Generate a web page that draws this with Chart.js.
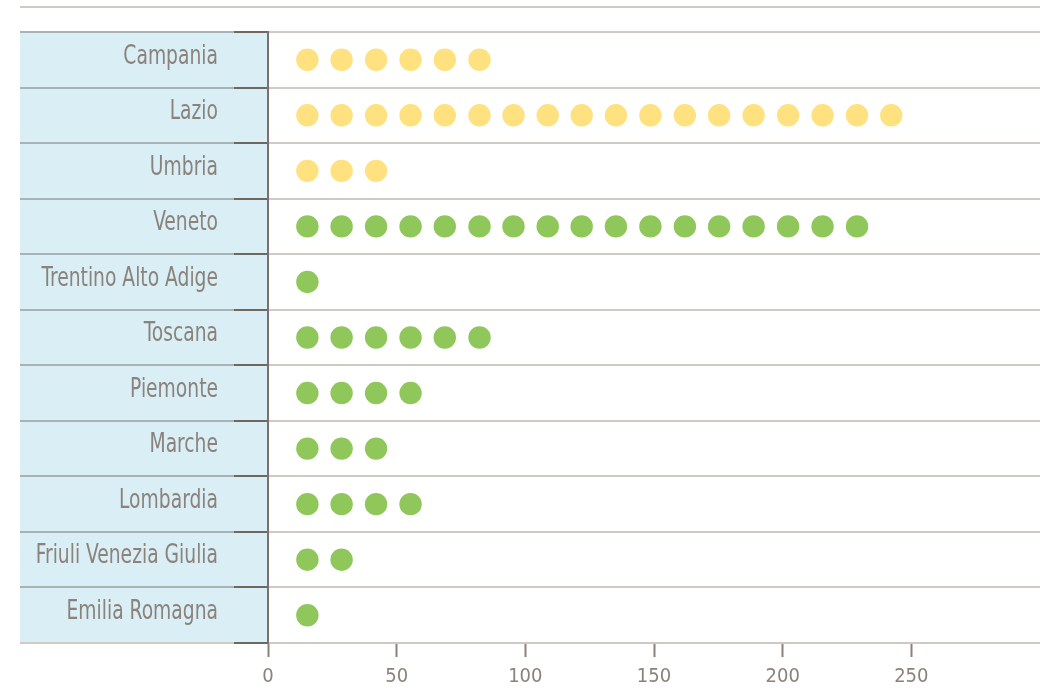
<!DOCTYPE html>
<html lang="it">
<head>
<meta charset="utf-8">
<title>Regioni</title>
<script src="https://cdn.jsdelivr.net/npm/chart.js@4.4.0/dist/chart.umd.min.js"></script>
<style>
    html, body { margin: 0; padding: 0; background: #ffffff; }
    .chart-wrap { position: relative; width: 1042px; height: 691px; }
</style>
</head>
<body>
<div class="chart-wrap">
    <canvas id="regionChart"></canvas>
</div>
<script>
// Regions, top to bottom
const regions = [
    'Campania', 'Lazio', 'Umbria', 'Veneto', 'Trentino Alto Adige', 'Toscana',
    'Piemonte', 'Marche', 'Lombardia', 'Friuli Venezia Giulia', 'Emilia Romagna'
];
// Number of dots in each row
const dotCounts = [6, 18, 3, 17, 1, 6, 4, 3, 4, 2, 1];
// First three rows are the yellow group, the rest green
const yellowRegions = ['Campania', 'Lazio', 'Umbria'];
// x value of each dot slot along the row
const dotSlots = [
    15.3, 28.6, 42.0, 55.4, 68.7, 82.2, 95.4, 108.7, 121.9,
    135.2, 148.6, 162.0, 175.3, 188.7, 202.1, 215.5, 228.9, 242.2
];
const xTicks = [0, 50, 100, 150, 200, 250];
const xMax = 300;

const FONT = '"DejaVu Sans Condensed", "DejaVu Sans", sans-serif';
const TEXT = '#8b827c';

function buildPoints(inGroup) {
    const pts = [];
    regions.forEach((name, i) => {
        if (yellowRegions.includes(name) !== inGroup) return;
        for (let k = 0; k < dotCounts[i]; k++) {
            pts.push({ x: dotSlots[k], y: name });
        }
    });
    return pts;
}

// Blue label panel, its row separators, the top rule and the narrow row labels
const panelPlugin = {
    id: 'panel',
    beforeDraw(chart) {
        const { ctx, chartArea, scales } = chart;
        const y = scales.y;
        const left = 20;
        const tickLen = y.options.grid.tickLength;
        ctx.save();
        ctx.fillStyle = '#d9eef5';
        ctx.fillRect(left, chartArea.top, chartArea.left - left, chartArea.bottom - chartArea.top - 1);

        ctx.lineWidth = 2;
        for (let i = 0; i <= regions.length; i++) {
            const py = Math.round(y.getPixelForValue(i - 0.5));
            ctx.strokeStyle = i === regions.length ? '#d0c9c4' : '#a9b3b6';
            ctx.beginPath();
            ctx.moveTo(left, py);
            ctx.lineTo(chartArea.left - tickLen, py);
            ctx.stroke();
        }

        ctx.strokeStyle = '#d0c9c4';
        ctx.beginPath();
        ctx.moveTo(left, 7);
        ctx.lineTo(chartArea.right, 7);
        ctx.stroke();
        ctx.restore();
    },
    afterDraw(chart) {
        const { ctx, chartArea, scales } = chart;
        const y = scales.y;
        const right = chartArea.left - y.options.grid.tickLength - 16;
        ctx.save();
        ctx.fillStyle = TEXT;
        ctx.font = '26px ' + FONT;
        ctx.textAlign = 'right';
        ctx.textBaseline = 'middle';
        regions.forEach((name, i) => {
            ctx.save();
            ctx.translate(right, y.getPixelForValue(i) - 3);
            ctx.scale(0.8, 1);
            ctx.fillText(name, 0, 0);
            ctx.restore();
        });
        ctx.restore();
    }
};

function initRegionChart() {
    const ctx = document.getElementById('regionChart').getContext('2d');
    new Chart(ctx, {
        type: 'scatter',
        data: {
            datasets: [{
                label: 'gruppo giallo',
                data: buildPoints(true),
                backgroundColor: '#ffe17f',
                borderWidth: 0,
                pointRadius: 11.2,
                pointHoverRadius: 11.2
            }, {
                label: 'gruppo verde',
                data: buildPoints(false),
                backgroundColor: '#8fc75b',
                borderWidth: 0,
                pointRadius: 11.2,
                pointHoverRadius: 11.2
            }]
        },
        options: {
            responsive: true,
            maintainAspectRatio: false,
            animation: false,
            layout: {
                autoPadding: false,
                padding: { top: 32, left: 20, right: 2, bottom: 0 }
            },
            plugins: {
                legend: { display: false },
                tooltip: { enabled: false }
            },
            scales: {
                x: {
                    type: 'linear',
                    min: 0,
                    max: xMax,
                    afterBuildTicks: scale => {
                        scale.ticks = xTicks.map(v => ({ value: v }));
                    },
                    afterFit: scale => {
                        scale.height = 48;
                        scale.paddingLeft = 0;
                        scale.paddingRight = 0;
                    },
                    border: { display: false },
                    grid: {
                        drawOnChartArea: false,
                        drawTicks: true,
                        tickLength: 14,
                        tickColor: '#8a817b',
                        tickWidth: 2
                    },
                    ticks: {
                        color: TEXT,
                        padding: 8,
                        maxRotation: 0,
                        font: { family: FONT, size: 20 }
                    }
                },
                y: {
                    type: 'category',
                    labels: regions,
                    offset: true,
                    afterFit: scale => { scale.width = 248; },
                    border: { display: true, color: '#7a716b', width: 2 },
                    grid: {
                        offset: true,
                        color: '#d0c9c4',
                        lineWidth: 2,
                        drawTicks: true,
                        tickLength: 34,
                        tickColor: '#6f6761',
                        tickWidth: 2
                    },
                    ticks: { display: false }
                }
            }
        },
        plugins: [panelPlugin]
    });
}

document.addEventListener('DOMContentLoaded', initRegionChart);
</script>
</body>
</html>
